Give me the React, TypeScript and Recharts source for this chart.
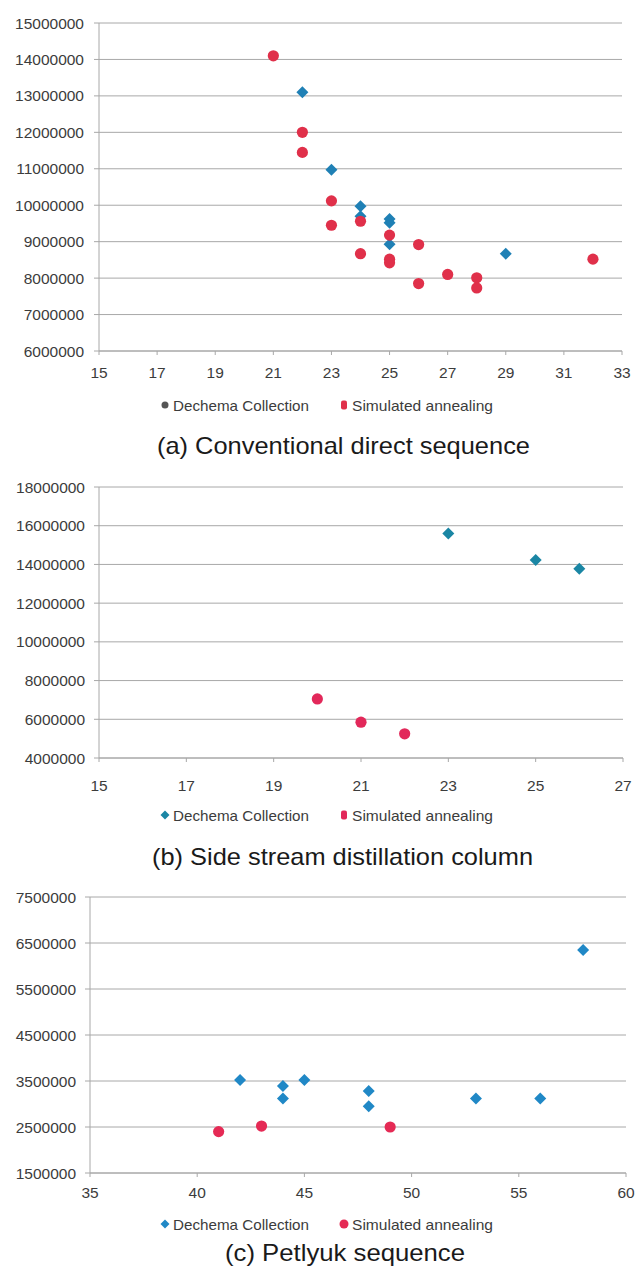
import React from 'react';
import { ScatterChart, Scatter, XAxis, YAxis, CartesianGrid } from 'recharts';

type Pt = { x: number; y: number };

const SERIES_DECHEMA = 'Dechema Collection';
const SERIES_ANNEALING = 'Simulated annealing';

// (a) Conventional direct sequence
const directTitle = '(a) Conventional direct sequence';
const directXTicks = [15, 17, 19, 21, 23, 25, 27, 29, 31, 33];
const directYTicks = [6000000, 7000000, 8000000, 9000000, 10000000, 11000000, 12000000, 13000000, 14000000, 15000000];
const directDechema: Pt[] = [
  { x: 22, y: 13100000 },
  { x: 23, y: 10970000 },
  { x: 24, y: 9970000 },
  { x: 24, y: 9700000 },
  { x: 25, y: 9620000 },
  { x: 25, y: 9520000 },
  { x: 25, y: 8930000 },
  { x: 29, y: 8670000 },
];
const directAnnealing: Pt[] = [
  { x: 21, y: 14100000 },
  { x: 22, y: 12000000 },
  { x: 22, y: 11450000 },
  { x: 23, y: 10120000 },
  { x: 23, y: 9450000 },
  { x: 24, y: 9560000 },
  { x: 24, y: 8670000 },
  { x: 25, y: 9180000 },
  { x: 25, y: 8520000 },
  { x: 25, y: 8420000 },
  { x: 26, y: 8920000 },
  { x: 26, y: 7850000 },
  { x: 27, y: 8100000 },
  { x: 28, y: 8010000 },
  { x: 28, y: 7730000 },
  { x: 32, y: 8520000 },
];

// (b) Side stream distillation column
const sideTitle = '(b) Side stream distillation column';
const sideXTicks = [15, 17, 19, 21, 23, 25, 27];
const sideYTicks = [4000000, 6000000, 8000000, 10000000, 12000000, 14000000, 16000000, 18000000];
const sideDechema: Pt[] = [
  { x: 23, y: 15600000 },
  { x: 25, y: 14230000 },
  { x: 26, y: 13780000 },
];
const sideAnnealing: Pt[] = [
  { x: 20, y: 7050000 },
  { x: 21, y: 5850000 },
  { x: 22, y: 5250000 },
];

// (c) Petlyuk sequence
const petlyukTitle = '(c) Petlyuk sequence';
const petlyukXTicks = [35, 40, 45, 50, 55, 60];
const petlyukYTicks = [1500000, 2500000, 3500000, 4500000, 5500000, 6500000, 7500000];
const petlyukDechema: Pt[] = [
  { x: 42, y: 3520000 },
  { x: 44, y: 3390000 },
  { x: 44, y: 3120000 },
  { x: 45, y: 3520000 },
  { x: 48, y: 3280000 },
  { x: 48, y: 2950000 },
  { x: 53, y: 3120000 },
  { x: 56, y: 3120000 },
  { x: 58, y: 6350000 },
];
const petlyukAnnealing: Pt[] = [
  { x: 41, y: 2400000 },
  { x: 43, y: 2520000 },
  { x: 49, y: 2500000 },
];

const FONT = '"Liberation Sans", Arial, sans-serif';
const TICK_FILL = '#3c3c3c';
const GRID = '#a8a8a8';

const Diamond = (props: any) => {
  const { cx, cy, fill } = props;
  const r = 6;
  return (
    <polygon
      points={`${cx},${cy - r} ${cx + r},${cy} ${cx},${cy + r} ${cx - r},${cy}`}
      fill={fill}
    />
  );
};

const Dot = (props: any) => {
  const { cx, cy, fill } = props;
  return <circle cx={cx} cy={cy} r={5.6} fill={fill} />;
};

type PanelProps = {
  top: number;
  plotTop: number;
  plotBottom: number;
  plotLeft: number;
  plotRight: number;
  xTicks: number[];
  yTicks: number[];
  dechema: Pt[];
  annealing: Pt[];
  blue: string;
  red: string;
  xLabelGap: number;
  yLabelGap: number;
};

const X_AXIS_H = 44;

function Panel(p: PanelProps) {
  const relTop = p.plotTop - p.top;
  const relBottom = p.plotBottom - p.top;
  const height = relBottom + X_AXIS_H + 4;
  return (
    <div style={{ position: 'absolute', left: 0, top: p.top, width: 637, height }}>
      <ScatterChart
        width={637}
        height={height}
        margin={{ top: relTop, right: 637 - p.plotRight, bottom: 4, left: 0 }}
      >
        <CartesianGrid vertical={false} stroke={GRID} strokeWidth={1} />
        <XAxis
          type="number"
          dataKey="x"
          domain={[p.xTicks[0], p.xTicks[p.xTicks.length - 1]]}
          ticks={p.xTicks}
          interval={0}
          height={X_AXIS_H}
          allowDataOverflow
          axisLine={{ stroke: GRID }}
          tickLine={{ stroke: GRID }}
          tickSize={4}
          tickMargin={p.xLabelGap}
          tick={{ fontSize: 15.5, fill: TICK_FILL, fontFamily: FONT }}
        />
        <YAxis
          type="number"
          dataKey="y"
          domain={[p.yTicks[0], p.yTicks[p.yTicks.length - 1]]}
          ticks={p.yTicks}
          interval={0}
          width={p.plotLeft}
          allowDataOverflow
          axisLine={{ stroke: GRID }}
          tickLine={{ stroke: GRID }}
          tickSize={5}
          tickMargin={p.yLabelGap}
          tick={{ fontSize: 15.5, fill: TICK_FILL, fontFamily: FONT }}
        />
        <Scatter
          name={SERIES_DECHEMA}
          data={p.dechema}
          fill={p.blue}
          shape={Diamond}
          isAnimationActive={false}
        />
        <Scatter
          name={SERIES_ANNEALING}
          data={p.annealing}
          fill={p.red}
          shape={Dot}
          isAnimationActive={false}
        />
      </ScatterChart>
    </div>
  );
}

type LegendIcon = 'dot' | 'diamond' | 'bar' | 'circle';

function LegendRow(props: {
  y: number;
  leftIcon: LegendIcon;
  leftColor: string;
  rightIcon: LegendIcon;
  rightColor: string;
}) {
  const icon = (kind: LegendIcon, x: number, y: number, color: string) => {
    if (kind === 'dot') return <circle cx={x} cy={y} r={3.5} fill={color} />;
    if (kind === 'circle') return <circle cx={x} cy={y} r={4.5} fill={color} />;
    if (kind === 'diamond')
      return <polygon points={`${x},${y - 4.5} ${x + 4.5},${y} ${x},${y + 4.5} ${x - 4.5},${y}`} fill={color} />;
    return <rect x={x - 3} y={y - 4.5} width={6} height={9} rx={2} fill={color} />;
  };
  return (
    <g>
      {icon(props.leftIcon, 165, props.y, props.leftColor)}
      <text
        x={173}
        y={props.y}
        dominantBaseline="central"
        fontFamily={FONT}
        fontSize={15}
        fill="#3c3c3c"
        textLength={136}
        lengthAdjust="spacingAndGlyphs"
      >
        {SERIES_DECHEMA}
      </text>
      {icon(props.rightIcon, 344, props.y, props.rightColor)}
      <text
        x={352}
        y={props.y}
        dominantBaseline="central"
        fontFamily={FONT}
        fontSize={15}
        fill="#3c3c3c"
        textLength={141}
        lengthAdjust="spacingAndGlyphs"
      >
        {SERIES_ANNEALING}
      </text>
    </g>
  );
}

function Caption(props: { text: string; x: number; y: number; width: number }) {
  return (
    <text
      x={props.x}
      y={props.y}
      dominantBaseline="central"
      fontFamily={FONT}
      fontSize={24}
      fill="#1a1a1a"
      textLength={props.width}
      lengthAdjust="spacingAndGlyphs"
    >
      {props.text}
    </text>
  );
}

export default function App() {
  return (
    <div
      style={{
        position: 'absolute',
        left: 0,
        top: 0,
        width: 637,
        height: 1267,
        background: '#ffffff',
        overflow: 'hidden',
      }}
    >
      <Panel
        top={0}
        plotTop={23}
        plotBottom={351}
        plotLeft={99}
        plotRight={622}
        xTicks={directXTicks}
        yTicks={directYTicks}
        dechema={directDechema}
        annealing={directAnnealing}
        blue="#1f80b5"
        red="#e0304a"
        xLabelGap={12}
        yLabelGap={10}
      />
      <Panel
        top={464}
        plotTop={487}
        plotBottom={758}
        plotLeft={99}
        plotRight={623}
        xTicks={sideXTicks}
        yTicks={sideYTicks}
        dechema={sideDechema}
        annealing={sideAnnealing}
        blue="#1a86a4"
        red="#e2285a"
        xLabelGap={18}
        yLabelGap={9}
      />
      <Panel
        top={874}
        plotTop={897}
        plotBottom={1173}
        plotLeft={90}
        plotRight={626}
        xTicks={petlyukXTicks}
        yTicks={petlyukYTicks}
        dechema={petlyukDechema}
        annealing={petlyukAnnealing}
        blue="#2088c6"
        red="#e52a55"
        xLabelGap={10}
        yLabelGap={9}
      />
      <svg
        width={637}
        height={1267}
        style={{ position: 'absolute', left: 0, top: 0, pointerEvents: 'none' }}
      >
        <LegendRow y={405} leftIcon="dot" leftColor="#555555" rightIcon="bar" rightColor="#e0304a" />
        <Caption text={directTitle} x={157} y={445} width={373} />
        <LegendRow y={815} leftIcon="diamond" leftColor="#1a86a4" rightIcon="bar" rightColor="#e2285a" />
        <Caption text={sideTitle} x={152} y={856} width={381} />
        <LegendRow y={1224} leftIcon="diamond" leftColor="#2088c6" rightIcon="circle" rightColor="#e52a55" />
        <Caption text={petlyukTitle} x={225} y={1252} width={240} />
      </svg>
    </div>
  );
}
